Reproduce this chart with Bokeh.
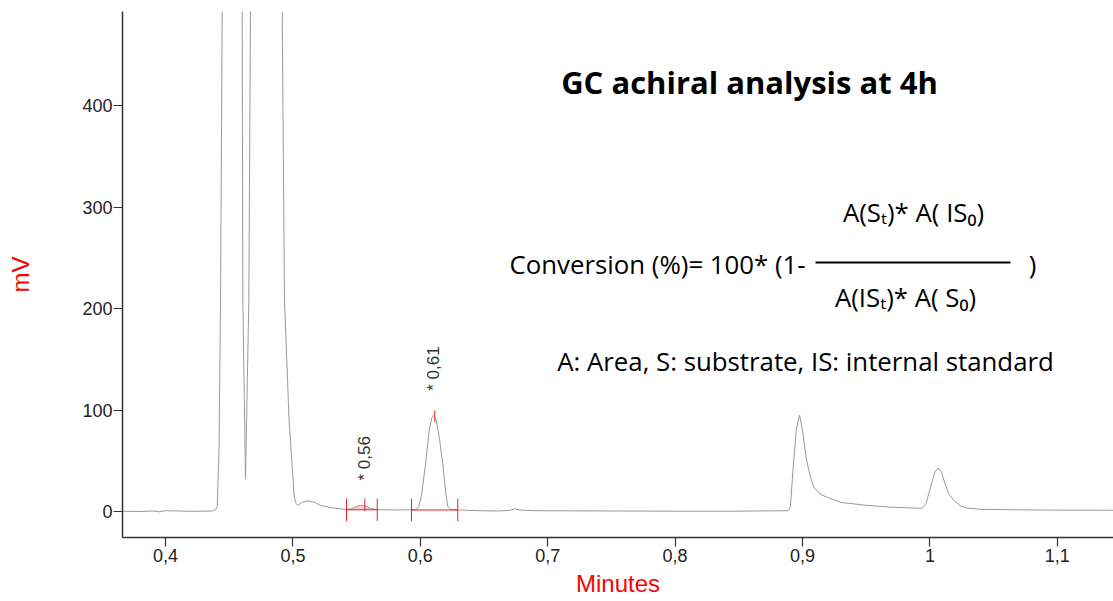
import numpy as np
from bokeh.plotting import figure
from bokeh.models import Range1d, FixedTicker, CustomJSTickFormatter, Label
from bokeh.embed import file_html
from bokeh.resources import INLINE
from bokeh.core.properties import value

# ---------------- data ----------------
time_min = [
    0.366, 0.380, 0.390, 0.395, 0.400, 0.410, 0.420, 0.430, 0.437, 0.4395,
    0.4406, 0.4420, 0.4432, 0.4445, 0.4455, 0.4470, 0.4500, 0.4585, 0.4602, 0.4607,
    0.4628, 0.4654, 0.4667, 0.4680, 0.4750, 0.4850, 0.4900, 0.4916, 0.4934, 0.4970,
    0.5010, 0.5025, 0.5040, 0.5070, 0.5120, 0.5170, 0.5217, 0.5300, 0.5374, 0.5420,
    0.5452, 0.5500, 0.5531, 0.5570, 0.5609, 0.5660, 0.5800, 0.5900, 0.5960, 0.5988,
    0.6010, 0.6041, 0.6070, 0.6090, 0.6106, 0.6125, 0.6150, 0.6177, 0.6200, 0.6215,
    0.6240, 0.6400, 0.6600, 0.6700, 0.6740, 0.6780, 0.6900, 0.7500, 0.8000, 0.8500,
    0.8890, 0.8905, 0.8925, 0.8950, 0.8977, 0.9000, 0.9030, 0.9060, 0.9089, 0.9140,
    0.9194, 0.9300, 0.9508, 0.9700, 0.9900, 0.9940, 0.9970, 1.0005, 1.0040, 1.0065,
    1.0090, 1.0120, 1.0150, 1.0188, 1.0240, 1.0293, 1.0400, 1.0600, 1.0800, 1.1000,
    1.1450,
]
signal_mv = [
    0.2, 0.0, 0.5, -0.3, 0.8, 0.5, 0.2, 0.3, 0.5, 2.0,
    5.0, 60.0, 208.0, 493.0, 800.0, 1100.0, 1400.0, 1000.0, 493.0, 208.0,
    32.0, 208.0, 493.0, 900.0, 1500.0, 1200.0, 700.0, 493.0, 208.0, 90.0,
    15.0, 7.9, 6.0, 9.0, 10.5, 9.0, 6.0, 3.8, 2.6, 2.0,
    2.5, 5.0, 6.0, 5.5, 3.0, 1.8, 1.5, 1.6, 1.8, 4.5,
    16.0, 47.0, 80.0, 92.0, 94.6, 90.0, 72.0, 47.0, 18.0, 5.0,
    2.0, 1.0, 0.5, 1.0, 2.5, 1.5, 0.8, 0.5, 0.3, 0.3,
    0.8, 5.0, 40.0, 80.0, 95.0, 80.0, 52.0, 35.0, 24.0, 17.0,
    14.0, 9.0, 6.0, 4.2, 3.3, 3.0, 8.0, 24.0, 39.0, 43.0,
    39.0, 27.0, 17.0, 11.0, 5.5, 3.3, 2.2, 1.8, 1.5, 1.4,
    1.2,
]

# integration marks (software annotations)
int_start = [0.5421, 0.5931]
int_end = [0.5662, 0.6294]
int_base = [1.7, 1.5]
int_split = [0.5565]
apex_time = [0.6114]
apex_mv = [94.0]

# peak labels
peak_labels = ["* 0,56", "* 0,61"]
peak_label_time = [0.5562, 0.6106]
peak_label_mv = [30.5, 119.0]

x_ticks = [0.4, 0.5, 0.6, 0.7, 0.8, 0.9, 1.0, 1.1]
y_ticks = [0, 100, 200, 300, 400]


# helpers converting reference pixel positions into data coordinates (for text placement)
def dx(px):
    return 0.4 + (px - 165) / 1274.0


def dy(py):
    return (511 - py) / 1.015


p = figure(
    width=1113, height=601,
    x_range=Range1d(dx(122), dx(1113)),
    y_range=Range1d(dy(537), dy(11)),
    output_backend="svg", toolbar_location=None,
    min_border_left=122, min_border_right=0, min_border_top=11, min_border_bottom=64,
)
p.grid.visible = False
p.outline_line_color = None
p.background_fill_color = "white"

AX = "#333333"
for ax in (p.xaxis[0], p.yaxis[0]):
    ax.axis_line_color = AX
    ax.axis_line_width = 1.5
    ax.major_tick_line_color = AX
    ax.major_tick_line_width = 1.2
    ax.major_tick_in = 0
    ax.major_tick_out = 9
    ax.minor_tick_in = 0
    ax.minor_tick_out = 0
    ax.major_label_text_font = "Liberation Sans"
    ax.major_label_text_font_size = "18px"
    ax.major_label_text_color = "#222222"
    ax.axis_label_text_font = "Liberation Sans"
    ax.axis_label_text_font_size = "24px"
    ax.axis_label_text_font_style = "normal"
    ax.axis_label_text_color = "#ff0000"

p.xaxis.ticker = FixedTicker(ticks=x_ticks)
p.xaxis.formatter = CustomJSTickFormatter(
    code="return String(Math.round(tick*10)/10).replace('.', ',');")
p.xaxis.major_label_standoff = 2
p.xaxis.axis_label = "Minutes"
p.xaxis.axis_label_standoff = 5

p.yaxis.ticker = FixedTicker(ticks=y_ticks)
p.yaxis.major_label_standoff = 1
p.yaxis.axis_label = "mV"
p.yaxis.axis_label_standoff = 45

# chromatogram trace
p.line(time_min, signal_mv, line_color="#9a9a9a", line_width=1)

# integrated area of the small peak
t = np.array(time_min)
s = np.array(signal_mv)
xs = [int_start[0]] + [v for v in time_min if int_start[0] < v < int_end[0]] + [int_end[0]]
ys = np.interp(xs, t, s)
p.varea(x=xs, y1=[int_base[0]] * len(xs), y2=list(ys), fill_color="#f28b8b", fill_alpha=0.45)

RED = "#ee1c1c"
p.segment(x0=int_start, y0=int_base, x1=int_end, y1=int_base, line_color=RED, line_width=1)
tick_x = int_start + int_end
tick_b = int_base + int_base
p.segment(x0=tick_x, y0=[b - 11 for b in tick_b], x1=tick_x, y1=[b + 11 for b in tick_b],
          line_color=RED, line_width=1)
p.segment(x0=int_split, y0=[int_base[0] - 1], x1=int_split, y1=[int_base[0] + 11],
          line_color=RED, line_width=1)
p.segment(x0=apex_time, y0=[a - 6 for a in apex_mv], x1=apex_time, y1=[a + 5.5 for a in apex_mv],
          line_color=RED, line_width=1)

p.text(x=peak_label_time, y=peak_label_mv, text=peak_labels, angle=np.pi / 2,
       text_align="left", text_baseline="middle", text_font=value("Liberation Sans"),
       text_font_size="17px", text_color="#333333")

# title and formula
p.add_layout(Label(x=dx(749), y=dy(81), text="GC achiral analysis at 4h", text_align="center",
                   text_baseline="middle", text_font="Open Sans", text_font_style="bold",
                   text_font_size="31px", text_color="black"))

FF = "Open Sans"
FS = "25.8px"
p.add_layout(Label(x=dx(509), y=dy(263), text="Conversion (%)= 100* (1-", text_align="left",
                   text_baseline="middle", text_font=FF, text_font_size=FS, text_color="black"))
p.add_layout(Label(x=dx(913), y=dy(211), text="A(S\u209c)* A( IS\u2080)", text_align="center",
                   text_baseline="middle", text_font=FF, text_font_size=FS, text_color="black"))
p.add_layout(Label(x=dx(905), y=dy(296), text="A(IS\u209c)* A( S\u2080)", text_align="center",
                   text_baseline="middle", text_font=FF, text_font_size=FS, text_color="black"))
p.add_layout(Label(x=dx(1032), y=dy(263), text=")", text_align="center",
                   text_baseline="middle", text_font=FF, text_font_size=FS, text_color="black"))
p.segment(x0=[dx(815)], y0=[dy(262)], x1=[dx(1010)], y1=[dy(262)], line_color="black", line_width=2)
p.add_layout(Label(x=dx(805), y=dy(360), text="A: Area, S: substrate, IS: internal standard",
                   text_align="center", text_baseline="middle", text_font=FF, text_font_size=FS,
                   text_color="black"))

open("out.html", "w").write(file_html(p, INLINE))
